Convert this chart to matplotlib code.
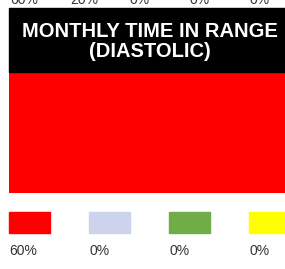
import matplotlib
matplotlib.use("Agg")
import matplotlib.pyplot as plt
from matplotlib.patches import Rectangle

plt.rcParams['font.family'] = ['Liberation Sans', 'DejaVu Sans']

title = "MONTHLY TIME IN RANGE\n(DIASTOLIC)"
categories = ["Stage 2", "Normal", "Elevated", "Stage 1"]
values = [60, 0, 0, 0]
colors = ["#FF0000", "#CDD3EA", "#70AD47", "#FFFF00"]
labels = ["60%", "0%", "0%", "0%"]
top_labels = ["60%", "20%", "0%", "0%", "0%"]

W, H = 285, 269
fig = plt.figure(figsize=(W / 100, H / 100), dpi=100)

def fx(px):
    return px / W

def fy(py):
    return 1 - py / H

# bar axes
ax = fig.add_axes([fx(9), fy(193), (W - 9) / W, (193 - 72) / H])
left = 0
for v, c in zip(values, colors):
    ax.barh(0, v, left=left, color=c, height=1.0, edgecolor='none')
    left += v
ax.set_xlim(0, sum(values))
ax.set_ylim(-0.5, 0.5)
ax.axis('off')

# header
fig.patches.append(Rectangle((fx(9), fy(72)), (W - 9) / W, (72 - 8) / H,
                             transform=fig.transFigure, color='black', zorder=1))
fig.text(fx(149.5), fy(41.5), title, color='white', fontsize=14.5, fontweight='bold',
         ha='center', va='center', linespacing=1.08, zorder=2)

# legend swatches and labels
for i, (c, lab) in enumerate(zip(colors, labels)):
    x0 = 9 + i * 80
    fig.patches.append(Rectangle((fx(x0), fy(233)), 41 / W, 21 / H,
                                 transform=fig.transFigure, color=c, zorder=1))
    fig.text(fx(x0), fy(255), lab, color='#333333', fontsize=10,
             ha='left', va='baseline')

# cut-off labels from above
for i, lab in enumerate(top_labels):
    fig.text(fx(10 + i * 60), fy(4), lab, color='#333333', fontsize=10,
             ha='left', va='baseline')

fig.savefig("out.png", dpi=100)
